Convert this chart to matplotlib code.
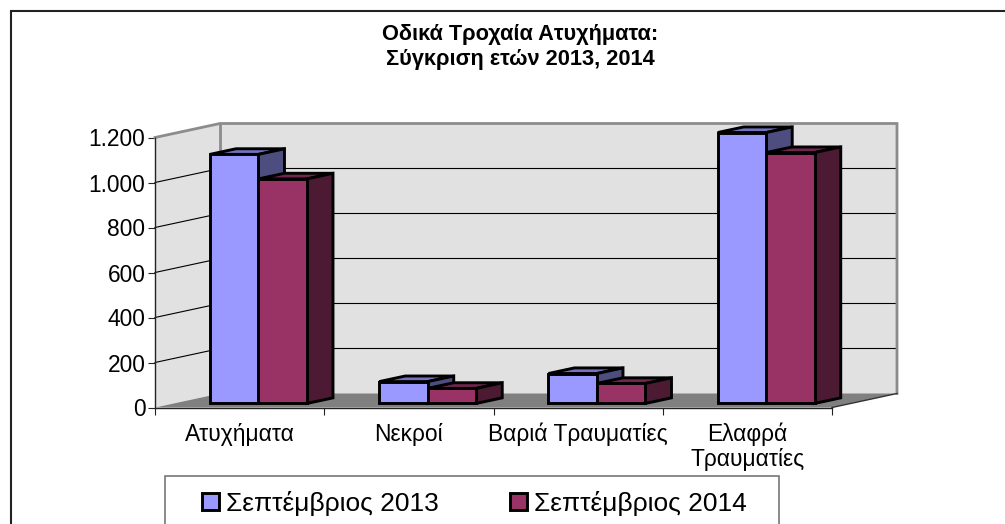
import matplotlib
matplotlib.use("Agg")
from matplotlib import pyplot as plt
from matplotlib.patches import Polygon, Rectangle, Patch

plt.rcParams['font.family'] = ['Liberation Sans', 'DejaVu Sans']

categories = ["Ατυχήματα", "Νεκροί", "Βαριά Τραυματίες", "Ελαφρά\nΤραυματίες"]
sep_2013 = [1107, 97, 133, 1204]
sep_2014 = [998, 67, 89, 1115]
y_ticks = [0, 200, 400, 600, 800, 1000, 1200]
y_tick_labels = ["0", "200", "400", "600", "800", "1.000", "1.200"]
title = "Οδικά Τροχαία Ατυχήματα:\nΣύγκριση ετών 2013, 2014"
series_names = ["Σεπτέμβριος 2013", "Σεπτέμβριος 2014"]

W, H = 1005, 524
# depth of the fake 3d box, in data units
DX = 65 / 677 * 4
DY = 14 / 270 * 1200
BAR_W = 0.2866


def depth(x, y, d):
    return (x + d * DX, y + d * DY)


def box(ax, x, val, front, side, top):
    d0, d1 = 0.29, 0.69
    y0 = 0
    f = [depth(x, y0, d0), depth(x + BAR_W, y0, d0), depth(x + BAR_W, val, d0), depth(x, val, d0)]
    s = [depth(x + BAR_W, y0, d0), depth(x + BAR_W, y0, d1), depth(x + BAR_W, val, d1), depth(x + BAR_W, val, d0)]
    t = [depth(x, val, d0), depth(x + BAR_W, val, d0), depth(x + BAR_W, val, d1), depth(x, val, d1)]
    for pts, c in ((t, top), (s, side), (f, front)):
        ax.add_patch(Polygon(pts, closed=True, facecolor=c, edgecolor="black", lw=2.1,
                             joinstyle="miter", clip_on=False, zorder=3))


fig = plt.figure(figsize=(W / 100, H / 100), dpi=100)
# outer chart frame runs off the right and bottom of the picture
fig.add_artist(Rectangle((10.5 / W, -0.1), 1.1, (524 - 11) / H + 0.1, fill=False,
                         edgecolor="#222222", lw=1.5, transform=fig.transFigure))

ax = fig.add_axes([155 / W, (524 - 407.5) / H, 677 / W, 270 / H])
ax.set_xlim(0, 4)
ax.set_ylim(0, 1200)
ax.patch.set_visible(False)

# walls and floor
n = len(categories)
ax.add_patch(Polygon([(0, 0), depth(0, 0, 1), depth(0, 1200, 1), (0, 1200)], facecolor="#e1e1e1",
                     edgecolor="none", clip_on=False, zorder=0))
ax.add_patch(Polygon([depth(0, 0, 1), depth(n, 0, 1), depth(n, 1200, 1), depth(0, 1200, 1)], facecolor="#e1e1e1",
                     edgecolor="none", clip_on=False, zorder=0))
ax.add_patch(Polygon([(0, 0), (n, 0), depth(n, 0, 1), depth(0, 0, 1)], facecolor="#808080",
                     edgecolor="none", clip_on=False, zorder=1))
for v in y_ticks[1:-1]:
    ax.plot(*zip((0, v), depth(0, v, 1), depth(n, v, 1)), color="black", lw=0.8, clip_on=False, zorder=2)
ax.plot(*zip((0, 1200), depth(0, 1200, 1), depth(n, 1200, 1), depth(n, 0, 1)), color="#8c8c8c", lw=2,
        clip_on=False, zorder=2, solid_joinstyle="miter")
ax.plot(*zip(depth(0, 1200, 1), depth(0, 0, 1)), color="#8c8c8c", lw=2, clip_on=False, zorder=0.5)
ax.plot(*zip((n, 0), depth(n, 0, 1)), color="#333333", lw=1, clip_on=False, zorder=2)

for i in range(n):
    left = i + 0.5 - BAR_W
    box(ax, left, sep_2013[i], "#9999ff", "#4d4d80", "#7373bf")
    box(ax, left + BAR_W, sep_2014[i], "#993366", "#4d1a33", "#732650")

for side in ("top", "right"):
    ax.spines[side].set_visible(False)
for side in ("left", "bottom"):
    ax.spines[side].set_color("#222222")
    ax.spines[side].set_linewidth(1)
    ax.spines[side].set_zorder(4)

ax.set_yticks(y_ticks)
ax.set_yticklabels(y_tick_labels, fontsize=16.4)
ax.tick_params(axis="y", length=5, pad=2, color="#222222")
ax.set_xticks(range(n + 1))
ax.set_xticklabels([])
ax.set_xticks([i + 0.5 for i in range(n)], minor=True)
ax.set_xticklabels(categories, minor=True, fontsize=16.4, linespacing=1.12)
ax.tick_params(axis="x", which="major", length=5, color="#222222")
ax.tick_params(axis="x", which="minor", length=0, pad=11)

fig.text(520 / W, 1 - 47 / H, title, ha="center", va="center", fontsize=15.7, fontweight="bold", linespacing=1.2)

# legend frame is cut off by the bottom edge, so it is drawn apart from the entries
fig.add_artist(Rectangle((165 / W, -0.1), (779 - 165) / W, (524 - 476) / H + 0.1, facecolor="white",
                         edgecolor="#777777", lw=1.2, transform=fig.transFigure))
handles = [Patch(facecolor="#9999ff", edgecolor="black", lw=2.1),
           Patch(facecolor="#993366", edgecolor="black", lw=2.1)]
fig.legend(handles, series_names, loc="upper left", bbox_to_anchor=(202 / W, 1 - 491 / H), borderaxespad=0,
           ncol=2, frameon=False, fontsize=19, handlelength=0.64, handleheight=0.64, handletextpad=0.27,
           columnspacing=2.7, borderpad=0)

fig.savefig("out.png", dpi=100)
